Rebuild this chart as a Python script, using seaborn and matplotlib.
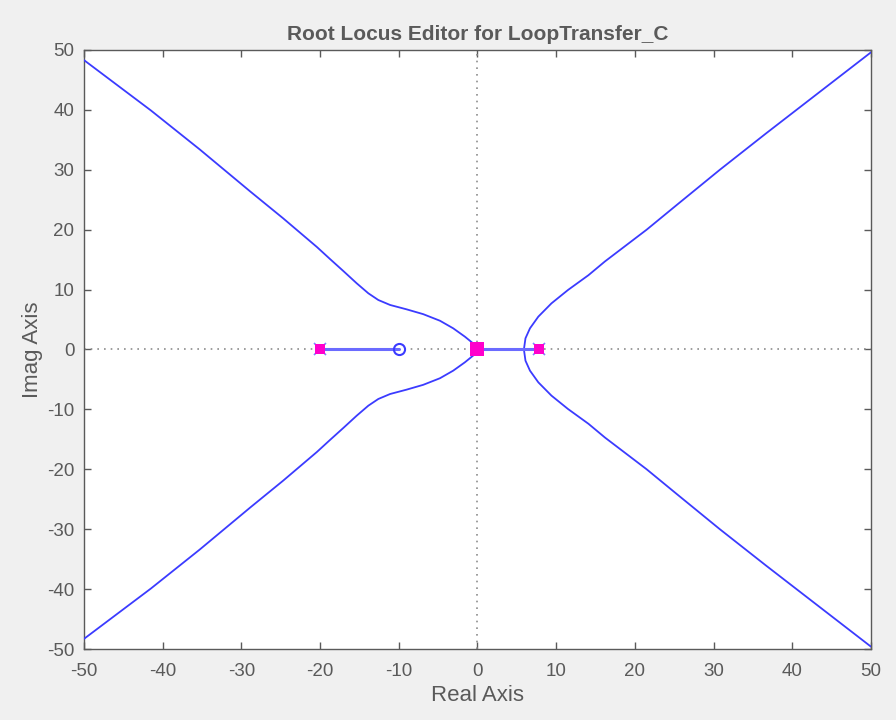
import numpy as np
import matplotlib
matplotlib.use("Agg")
import matplotlib.pyplot as plt
import seaborn as sns

# upper half of the complex branches (lower half is the mirror image)
left_re = [0.0, -0.3, -1.6, -3.08, -4.77, -6.9, -9.0, -11.1, -12.6, -13.87, -15.35,
           -17.05, -18.74, -20.4, -24.7, -28.9, -35.3, -41.5, -50.0]
left_im = [0.0, 0.75, 2.14, 3.53, 4.8, 5.9, 6.7, 7.43, 8.26, 9.38, 11.05,
           13.1, 15.1, 17.1, 21.9, 26.4, 33.4, 39.9, 48.3]

right_re = [5.9, 6.1, 6.67, 7.73, 9.4, 11.5, 14.1, 16.2, 18.1, 21.5, 25.3, 30.8, 36.7, 43.2, 50.0]
right_im = [0.0, 1.87, 3.53, 5.48, 7.7, 9.93, 12.4, 14.7, 16.6, 20.0, 24.1, 30.0, 36.1, 42.7, 49.6]

# real-axis segments
seg_left = [-20.0, -10.0]
seg_right = [0.0, 7.8]

poles = [-20.0, 0.0, 7.8]
zeros = [-10.0]

ticks = [-50, -40, -30, -20, -10, 0, 10, 20, 30, 40, 50]

blue = "#3b3bff"
grey = "#5a5a5a"

sns.set_theme(style="white")
plt.rcParams["font.family"] = ["Liberation Sans", "DejaVu Sans"]
plt.rcParams["axes.unicode_minus"] = False

fig = plt.figure(figsize=(8.96, 7.2), dpi=100, facecolor="#f0f0f0")
ax = fig.add_axes([0.0938, 0.0986, 0.8782, 0.832])
ax.set_facecolor("white")

# dotted axis lines through the origin
ax.axhline(0, color="#8c8c8c", ls=(0, (1, 3)), lw=1.2, zorder=1)
ax.axvline(0, color="#8c8c8c", ls=(0, (1, 3)), lw=1.2, zorder=1)

for re, im in [(left_re, left_im), (right_re, right_im)]:
    re = np.array(re)
    im = np.array(im)
    sns.lineplot(x=re, y=im, sort=False, estimator=None, color=blue, lw=1.3, ax=ax, zorder=3)
    sns.lineplot(x=re, y=-im, sort=False, estimator=None, color=blue, lw=1.3, ax=ax, zorder=3)

for seg in [seg_left, seg_right]:
    sns.lineplot(x=seg, y=[0, 0], sort=False, estimator=None, color="#6b6bff", lw=2.2, ax=ax, zorder=3)

# open-loop zero
ax.plot(zeros, [0] * len(zeros), "o", mfc="none", mec=blue, ms=8, mew=1.5, zorder=4)
# closed-loop poles (magenta squares over blue crosses)
ax.plot(poles, [0] * len(poles), "x", color="#8080ff", ms=8, mew=1.2, zorder=4)
ax.plot(poles, [0] * len(poles), "s", color="#ff00cc", ms=6.5, mew=0, zorder=5)
ax.plot([0.0], [0.0], "s", color="#ff00cc", ms=10, mew=0, zorder=5)

ax.set_xlim(-50, 50)
ax.set_ylim(-50, 50)
ax.set_xticks(ticks)
ax.set_yticks(ticks)
ax.tick_params(direction="in", length=5, width=1, color=grey, labelsize=13.5,
               labelcolor=grey, top=True, right=True, bottom=True, left=True)
ax.tick_params(axis="x", pad=10)
ax.tick_params(axis="y", pad=7)
for s in ax.spines.values():
    s.set_color(grey)
    s.set_linewidth(1)

ax.set_xlabel("Real Axis", fontsize=16, color=grey, labelpad=4)
ax.set_ylabel("Imag Axis", fontsize=16, color=grey, labelpad=3)
ax.set_title("Root Locus Editor for LoopTransfer_C", fontsize=15, fontweight="bold", color=grey, pad=7)

fig.savefig("out.png", dpi=100, facecolor=fig.get_facecolor())
